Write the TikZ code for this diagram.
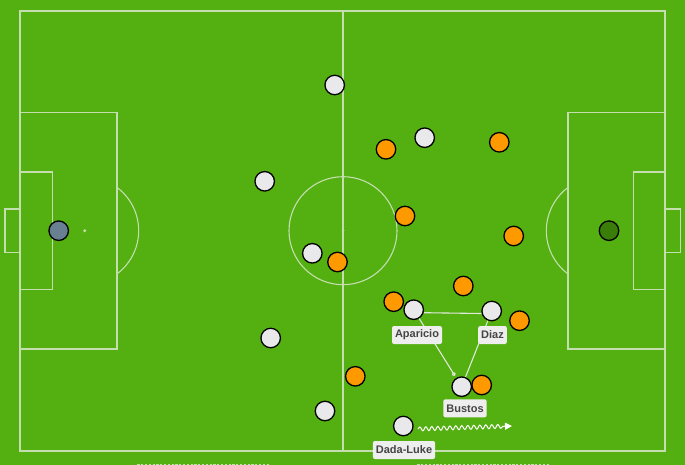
\documentclass[tikz,border=0pt]{standalone}
\usepackage{fontspec}
\setmainfont{Liberation Sans}
\usetikzlibrary{decorations.pathmorphing,arrows.meta,calc}
\definecolor{pitch}{RGB}{83,176,16}
\definecolor{pline}{RGB}{196,222,176}
\definecolor{orng}{RGB}{255,153,0}
\definecolor{wht}{RGB}{233,233,235}
\definecolor{gkblue}{RGB}{104,128,146}
\definecolor{gkgreen}{RGB}{58,125,8}
\definecolor{lblbg}{RGB}{238,238,238}
\definecolor{lbltxt}{RGB}{68,68,68}
\definecolor{conn}{RGB}{225,232,220}
\tikzset{
  x=1pt,y=-1pt,
  pl/.style={draw=pline,line width=1.1pt},
  player/.style={circle,draw=black,line width=1.3pt,minimum size=19.5pt,inner sep=0pt},
  wp/.style={player,fill=wht},
  op/.style={player,fill=orng},
  lbl/.style={fill=lblbg,rounded corners=2pt,text=lbltxt,font=\bfseries\fontsize{11}{13}\selectfont,inner xsep=3pt,minimum height=18pt,inner ysep=0pt},
  connline/.style={draw=conn,line width=1.1pt},
}
\begin{document}
\begin{tikzpicture}
\fill[pitch] (0,0) rectangle (685,465);
\useasboundingbox (0,0) rectangle (685,465);
% pitch lines
\draw[pl] (20,11) rectangle (665,451);
\draw[pl] (343,11) -- (343,451);
\draw[pl] (343,230.7) circle[radius=54];
\fill[pline] (343,230.7) circle[radius=1.5];
% left
\draw[pl] (20,112.7) rectangle (117,349);
\draw[pl] (20,172) rectangle (52.3,289.3);
\draw[pl] (5,209) rectangle (20,252.7);
\fill[pline] (84.7,230.7) circle[radius=1.6];
\draw[pl] (84.7,230.7) ++(-53.2:54) arc[start angle=-53.2,end angle=53.2,radius=54];
% right
\draw[pl] (568,112.7) rectangle (665,349);
\draw[pl] (633.7,172) rectangle (665,289.3);
\draw[pl] (665,209) rectangle (680.3,252.7);
\fill[pline] (600.3,230.7) circle[radius=1.6];
\draw[pl] (600.3,230.7) ++(126.8:54) arc[start angle=126.8,end angle=233.2,radius=54];
% bottom faint dashes
\draw[pline,line width=1.5pt,dash pattern=on 2.2pt off 1.6pt] (137.3,464.3) -- (270,464.3);
\draw[pline,line width=1.5pt,dash pattern=on 2.2pt off 1.6pt] (417.3,464.3) -- (550,464.3);
% goalkeepers
\node[player,fill=gkblue] (gkl) at (58.7,230.7) {};
\node[player,fill=gkgreen] (gkr) at (609,230.7) {};
% white team
\node[wp] (w1) at (334.7,85) {};
\node[wp] (w2) at (424.7,137.7) {};
\node[wp] (w3) at (264.7,181.3) {};
\node[wp] (w4) at (312.3,253.3) {};
\node[wp] (w5) at (270.7,338) {};
\node[wp] (w6) at (325,411) {};
% orange team
\node[op] (o1) at (386,149.3) {};
\node[op] (o2) at (499.3,142.3) {};
\node[op] (o3) at (405,216) {};
\node[op] (o4) at (513.7,236) {};
\node[op] (o5) at (337.5,262) {};
\node[op] (o6) at (463.3,286) {};
\node[op] (o7) at (393.7,301.7) {};
\node[op] (o8) at (519.5,320.7) {};
\node[op] (o9) at (481.7,385) {};
\node[op] (o10) at (355.3,376.3) {};
% labelled players
\node[wp] (apa) at (413.7,309.7) {};
\node[wp] (dia) at (491.7,311) {};
\node[wp] (bus) at (461.7,386.7) {};
\node[wp] (dad) at (403.3,426) {};
% connectors
\draw[connline] ($(apa.east)+(0,3)$) -- ($(dia.west)+(0,2.5)$);
\draw[connline] (dia) -- (bus);
\draw[connline,shorten >=2.5pt,-{Circle[length=4pt,fill=conn!70!gray]}] (apa) -- (bus);
% labels
\node[lbl] (lapa) at (417,335) {Aparicio};
\node[lbl] (ldia) at (492.5,335) {Diaz};
\node[lbl] (lbus) at (465,408.3) {Bustos};
\node[lbl] (ldad) at (404,450) {Dada-Luke};
% run
\coordinate (runstart) at (418,429);
\coordinate (runend) at (512,426);
\draw[white,line width=1pt,decorate,decoration={snake,amplitude=2pt,segment length=6pt,post length=7pt},-{Triangle[length=7pt,width=7pt,fill=white]}] (runstart) -- (runend);
\end{tikzpicture}
\end{document}
